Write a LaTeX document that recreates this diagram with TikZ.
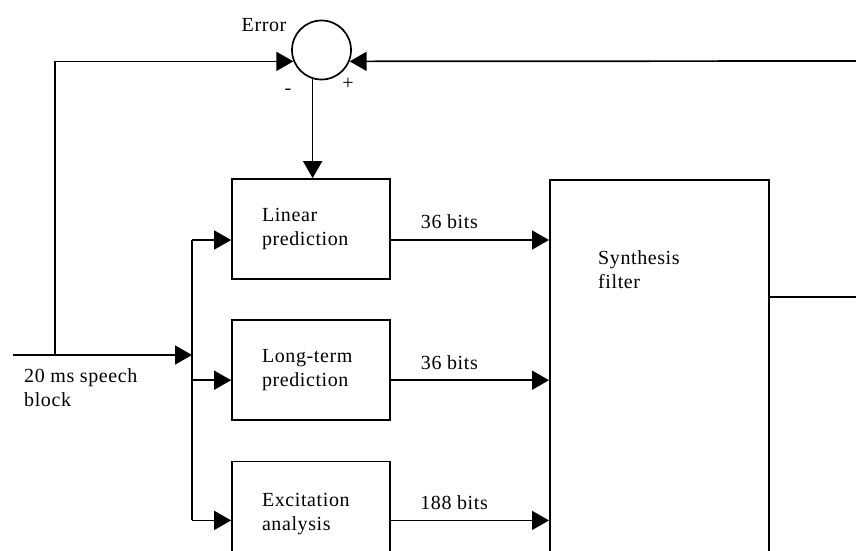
\documentclass[tikz,border=0pt]{standalone}
\usepackage{fontspec}
\setmainfont[LetterSpace=3]{Liberation Serif}
\usetikzlibrary{arrows.meta,positioning,calc}
\tikzset{
  blockbox/.style={draw=black,line width=1.7pt,minimum width=158pt,
    minimum height=100pt,inner sep=0pt,text width=98pt,align=left,
    font=\fontsize{20}{24}\selectfont},
  sumnode/.style={draw=black,line width=1.7pt,circle,minimum size=59pt,inner sep=0pt},
  sigline/.style={line width=1.7pt,draw=black},
  sigarrow/.style={sigline,-{Triangle[length=17pt,width=19pt]}},
  txtlabel/.style={inner sep=0pt,align=left,font=\fontsize{20}{24}\selectfont},
}
\begin{document}
\begin{tikzpicture}[x=1pt,y=-1pt,node distance=39pt]
  \clip (0,0) rectangle (856,551);
  % summing point and the three analysis blocks
  \node[sumnode] (err) at (321.5,50) {};
  \node[blockbox] (lin) at (311,229) {Linear\\prediction};
  \node[blockbox,below=of lin] (ltp) {Long-term\\prediction};
  \node[blockbox,below=40pt of ltp,minimum height=106pt] (exc) {Excitation\\analysis};
  \node[draw=black,line width=1.7pt,anchor=north west,minimum width=219pt,
    minimum height=400pt] (synth) at (549,179) {};
  \node[txtlabel,anchor=west] (synthtxt) at (598,270) {Synthesis\\filter};
  \node[txtlabel] (errtxt) at (264,25) {Error};
  \node[txtlabel] (minus) at (288,92) {-};
  \node[txtlabel] (plus) at (348,84) {+};
  \node[txtlabel,anchor=north west] (speech) at (24,368) {20 ms speech\\block};
  % connection points
  \coordinate (inL) at (13,355);
  \coordinate (tap) at (55,355);
  \coordinate (bus) at (192,355);
  \coordinate (fb) at (856,61);
  \coordinate (outEnd) at (856,297);
  \coordinate (linIn) at ([yshift=-11pt]lin.west);
  \coordinate (ltpIn) at ([yshift=-10.5pt]ltp.west);
  \coordinate (excIn) at ([yshift=-6pt]exc.west);
  % input and feedback
  \draw[sigarrow] (inL) -- (bus);
  \draw[sigarrow] (tap) |- (err.202);
  \draw[sigarrow] (fb) -- (err.338);
  \draw[sigarrow] (err.253) -- (err.253 |- lin.north);
  \draw[sigline] (linIn -| bus) -- (excIn -| bus);
  \draw[sigarrow] (linIn -| bus) -- (linIn);
  \draw[sigarrow] (ltpIn -| bus) -- (ltpIn);
  \draw[sigarrow] (excIn -| bus) -- (excIn);
  % bit streams into the filter
  \draw[sigarrow] (linIn -| lin.east) -- node[txtlabel,pos=0.37,above=10pt] (linbits) {36 bits} (linIn -| synth.west);
  \draw[sigarrow] (ltpIn -| ltp.east) -- node[txtlabel,pos=0.37,above=10pt] (ltpbits) {36 bits} (ltpIn -| synth.west);
  \draw[sigarrow] (excIn -| exc.east) -- node[txtlabel,pos=0.40,above=10pt] (excbits) {188 bits} (excIn -| synth.west);
  \draw[sigline] (outEnd -| synth.east) -- (outEnd);
\end{tikzpicture}
\end{document}
